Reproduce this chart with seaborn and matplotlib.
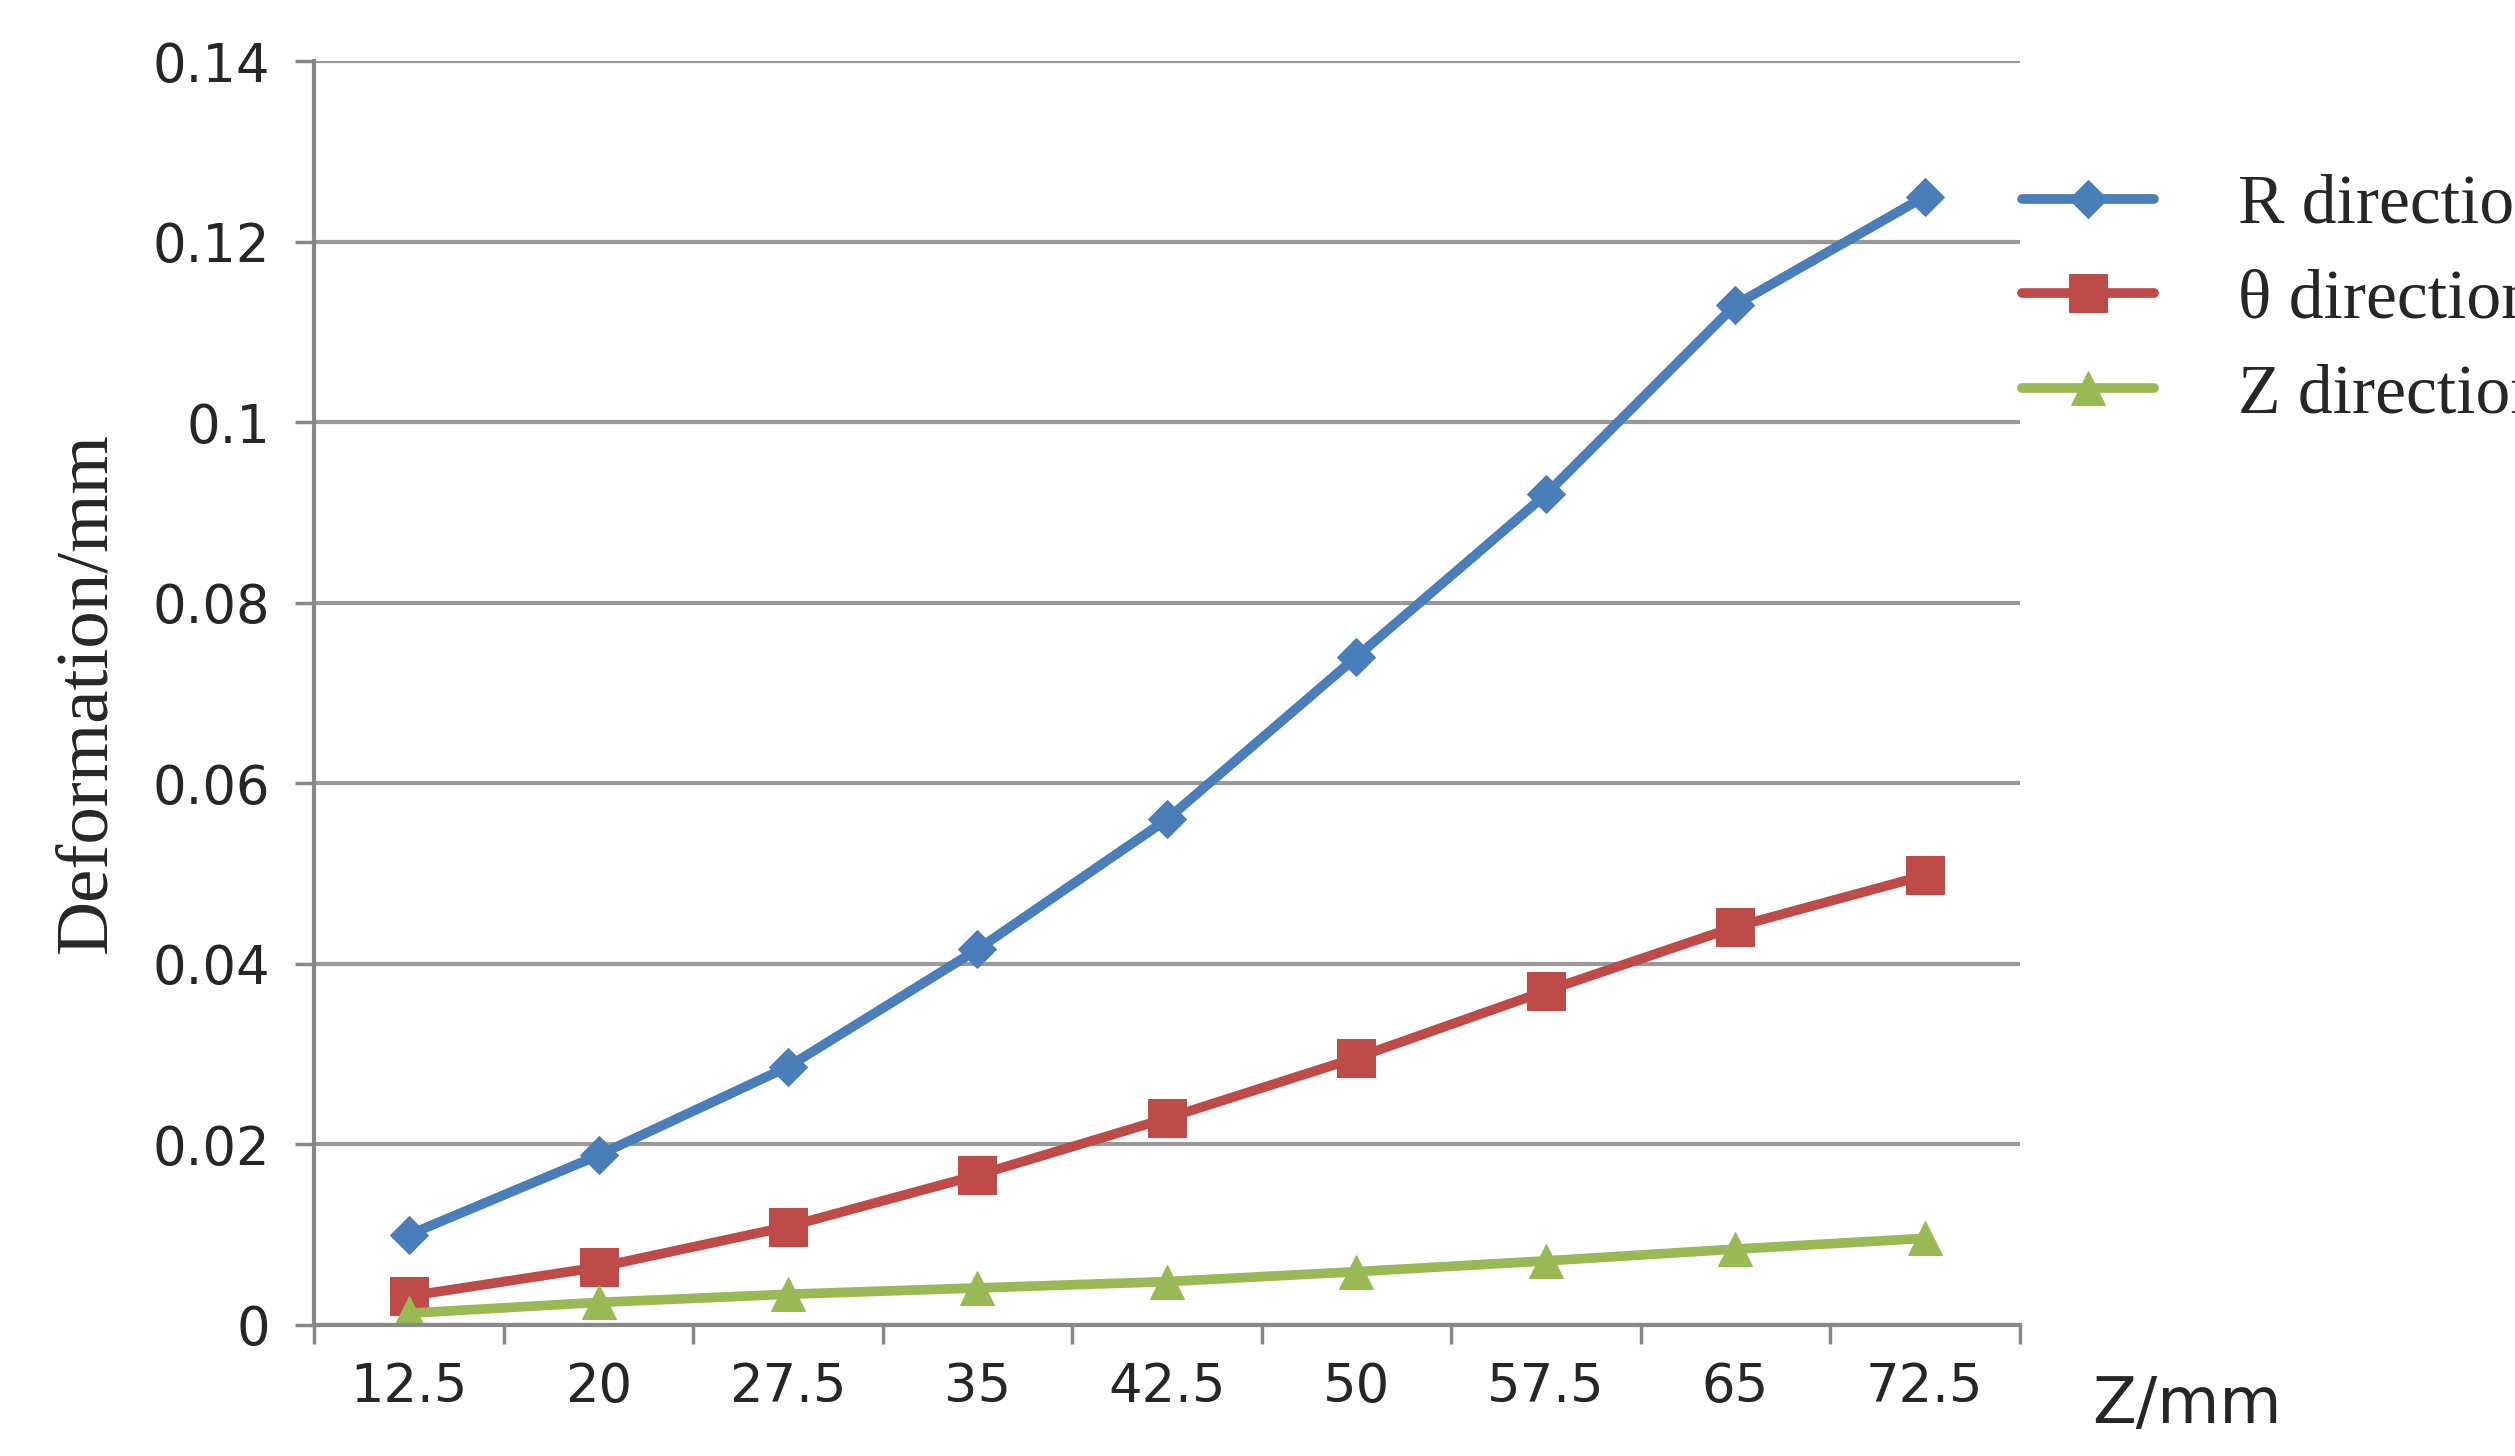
import matplotlib
matplotlib.use("Agg")
import matplotlib.pyplot as plt
import seaborn as sns
import pandas as pd
import numpy as np

categories = ["12.5", "20", "27.5", "35", "42.5", "50", "57.5", "65", "72.5"]
r_dir = [0.0100, 0.0188, 0.0286, 0.0416, 0.0560, 0.0740, 0.0920, 0.1130, 0.1250]
theta_dir = [0.0032, 0.0064, 0.0109, 0.0166, 0.0229, 0.0296, 0.0370, 0.0441, 0.0498]
z_dir = [0.0013, 0.0025, 0.0034, 0.0041, 0.0048, 0.0059, 0.0071, 0.0084, 0.0096]
series_names = ["R direction", "θ direction", "Z direction"]
colors = ["#4a7ebb", "#be4b48", "#98b954"]
markers = ["D", "s", "^"]
msizes = [19, 28, 24]

sns.set_style("white")
fig = plt.figure(figsize=(25.15, 14.56), dpi=100)
ax = fig.add_axes([0.125, 0.09, 0.678, 0.868])

x = np.arange(len(categories))
for name, vals, c, m, ms in zip(series_names, [r_dir, theta_dir, z_dir], colors, markers, msizes):
    df = pd.DataFrame({"x": x, "y": vals})
    sns.lineplot(data=df, x="x", y="y", ax=ax, color=c, lw=7, marker=m,
                 markersize=ms, markeredgecolor=c, label=name)

ax.set_xlim(-0.5, len(categories) - 0.5)
ax.set_ylim(0, 0.14)
ax.set_yticks(np.arange(0, 0.141, 0.02))
ax.set_yticklabels(["0", "0.02", "0.04", "0.06", "0.08", "0.1", "0.12", "0.14"])
ax.set_xticks(x)
ax.set_xticklabels(categories)
ax.set_xticks(np.arange(-0.5, len(categories), 1), minor=True)
ax.tick_params(axis="x", which="major", length=0, labelsize=38, pad=26)
ax.tick_params(axis="x", which="minor", length=14, width=2.5, color="#888888", direction="out")
ax.tick_params(axis="y", length=14, width=2.5, color="#888888", labelsize=38, pad=18, direction="out")
ax.xaxis.set_tick_params(bottom=True, which="both")
ax.yaxis.set_tick_params(left=True)
ax.grid(axis="y", color="#999999", lw=3)
ax.set_axisbelow(True)
for s in ["top", "right"]:
    ax.spines[s].set_visible(False)
for s in ["left", "bottom"]:
    ax.spines[s].set_color("#888888")
    ax.spines[s].set_linewidth(3)
ax.set_xlabel("")
ax.set_ylabel("Deformation/mm", fontsize=54, family="Liberation Serif", labelpad=22)
fig.text(0.832, 0.035, "Z/mm", fontsize=46, ha="left", va="center")

ax.legend(loc="upper left", bbox_to_anchor=(0.965, 0.96), frameon=False,
          prop={"family": ["Liberation Serif", "DejaVu Sans"], "size": 50},
          handlelength=1.9, labelspacing=0.45, handletextpad=1.2)
fig.savefig("out.png", dpi=100)
